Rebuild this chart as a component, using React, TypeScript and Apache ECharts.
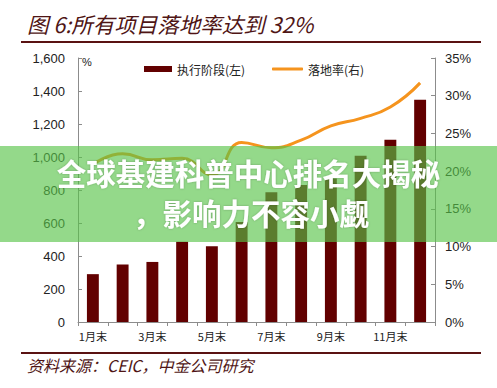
import React, { useEffect, useRef } from "react";
import * as echarts from "echarts";

const categories = ["1月末", "2月末", "3月末", "4月末", "5月末", "6月末", "7月末", "8月末", "9月末", "10月末", "11月末", "12月末"];
const execValues = [290, 348, 364, 487, 459, 606, 787, 830, 870, 1008, 1105, 1347];
const landingRate = [20.9, 22.3, 21.5, 21.7, 19.5, 23.8, 23.1, 24.1, 26.0, 27.0, 28.5, 31.7];
const barName = "执行阶段(左)";
const lineName = "落地率(右)";
const titleText = "图 6:所有项目落地率达到 32%";
const sourceText = "资料来源：CEIC，中金公司研究";
const bannerLine1 = "全球基建科普中心排名大揭秘";
const bannerLine2 = "，影响力不容小觑";

export default function App() {
  const ref = useRef<HTMLDivElement>(null);
  useEffect(() => {
    document.body.style.margin = "0";
    const chart = echarts.init(ref.current!, null, { renderer: "svg" });
    const maroon = "#4f1515";
    const axisColor = "#8c8c8c";
    const legendText = { fontSize: 12, color: "#222", fontFamily: "Noto Sans CJK SC" };
    chart.setOption({
      animation: false,
      backgroundColor: "#ffffff",
      grid: { left: 78, right: 62, top: 58, bottom: 66 },
      legend: [
        {
          left: 139,
          top: 58,
          itemWidth: 28,
          itemHeight: 6,
          textStyle: legendText,
          data: [{ name: barName, icon: "rect" }],
        },
        {
          left: 267,
          top: 58,
          itemWidth: 31,
          itemHeight: 3,
          textStyle: legendText,
          data: [{ name: lineName, icon: "roundRect" }],
        },
      ],
      xAxis: {
        type: "category",
        data: categories,
        axisLine: { lineStyle: { color: axisColor } },
        axisTick: { show: true, length: 4, inside: false, interval: 0, lineStyle: { color: axisColor } },
        axisLabel: { interval: 1, fontSize: 11, color: "#222", margin: 8, fontFamily: "Noto Sans CJK SC" },
      },
      yAxis: [
        {
          type: "value",
          min: 0,
          max: 1600,
          interval: 200,
          splitLine: { show: false },
          axisLine: { show: true, lineStyle: { color: axisColor } },
          axisTick: { show: true, inside: true, length: 4, lineStyle: { color: axisColor } },
          axisLabel: {
            margin: 13,
            fontSize: 13,
            color: "#222",
            fontFamily: "Liberation Sans",
            formatter: (v: number) => v.toLocaleString("en-US"),
          },
        },
        {
          type: "value",
          min: 0,
          max: 35,
          interval: 5,
          splitLine: { show: false },
          axisLine: { show: true, lineStyle: { color: axisColor } },
          axisTick: { show: true, inside: true, length: 4, lineStyle: { color: axisColor } },
          axisLabel: { margin: 10, fontSize: 13, color: "#222", fontFamily: "Liberation Sans", formatter: "{value}%" },
        },
      ],
      series: [
        {
          name: barName,
          type: "bar",
          data: execValues,
          barWidth: "40%",
          itemStyle: { color: "#620000" },
          yAxisIndex: 0,
        },
        {
          name: lineName,
          type: "line",
          data: landingRate,
          yAxisIndex: 1,
          smooth: true,
          symbol: "none",
          lineStyle: { color: "#f5941e", width: 3 },
          itemStyle: { color: "#f5941e" },
        },
      ],
      graphic: [
        {
          type: "text",
          left: 27,
          top: 13,
          style: { text: titleText, fontSize: 21.5, fontStyle: "italic", fill: maroon, fontFamily: "Noto Sans CJK SC" },
        },
        { type: "rect", shape: { x: 21, y: 41, width: 460, height: 2 }, style: { fill: "#5a1212" } },
        {
          type: "text",
          left: 82,
          top: 56,
          style: { text: "%", fontSize: 11, fill: "#222", fontFamily: "Liberation Sans" },
        },
        { type: "rect", shape: { x: 21, y: 352, width: 460, height: 2 }, style: { fill: "#5a1212" } },
        {
          type: "text",
          left: 27,
          top: 357,
          style: { text: sourceText, fontSize: 16, fontStyle: "italic", fill: maroon, fontFamily: "Noto Sans CJK SC" },
        },
        {
          type: "rect",
          z: 100,
          shape: { x: 0, y: 146, width: 497, height: 96 },
          style: { fill: "rgba(88,196,72,0.64)" },
        },
        {
          type: "text",
          z: 101,
          x: 248.5,
          y: 172,
          style: {
            text: bannerLine1,
            fontSize: 29.5,
            fontWeight: "bold",
            fill: "#ffffff",
            align: "center",
            verticalAlign: "middle",
            fontFamily: "Noto Sans CJK SC",
            textShadowColor: "rgba(0,0,0,0.25)",
            textShadowBlur: 2,
          },
        },
        {
          type: "text",
          z: 101,
          x: 251,
          y: 212,
          style: {
            text: bannerLine2,
            fontSize: 29.5,
            fontWeight: "bold",
            fill: "#ffffff",
            align: "center",
            verticalAlign: "middle",
            fontFamily: "Noto Sans CJK SC",
            textShadowColor: "rgba(0,0,0,0.25)",
            textShadowBlur: 2,
          },
        },
      ],
    });
    return () => chart.dispose();
  }, []);
  return <div ref={ref} style={{ width: 497, height: 388 }} />;
}
